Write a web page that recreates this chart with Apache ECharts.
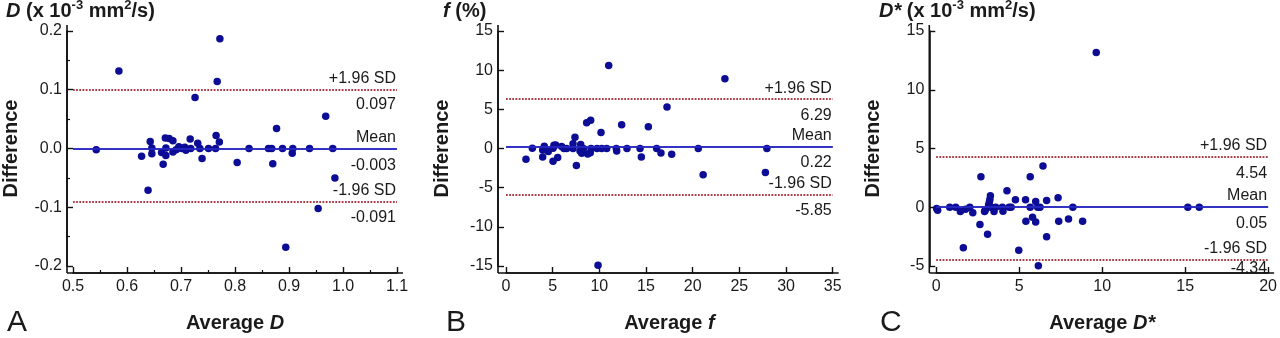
<!DOCTYPE html>
<html>
<head>
<meta charset="utf-8">
<script src="https://cdn.jsdelivr.net/npm/echarts@6/dist/echarts.min.js"></script>
<style>
html,body{margin:0;padding:0;background:#fff;}
#chart{width:1280px;height:338px;}
</style>
</head>
<body>
<div id="chart"></div>
<script>
// ---------- DATA ----------
// Panel A: D (x 10^-3 mm2/s) -> [average, difference]
const aPoints = [
  [0.543,-0.002],[0.585,0.132],[0.627,-0.013],[0.639,-0.071],[0.643,0.012],[0.646,0.001],[0.646,-0.009],
  [0.664,-0.007],[0.667,-0.027],[0.671,0.018],[0.672,0.001],[0.672,-0.012],[0.678,0.017],[0.685,0.013],
  [0.685,-0.006],[0.691,-0.002],[0.696,0.003],[0.701,0.0],[0.707,0.002],[0.709,-0.003],[0.717,0.016],
  [0.718,0.0],[0.726,0.087],[0.731,0.009],[0.735,0.0],[0.739,-0.017],[0.751,0.0],[0.764,0.0],
  [0.765,0.022],[0.767,0.114],[0.771,0.011],[0.772,0.187],[0.804,-0.024],[0.826,0.0],[0.862,0.0],
  [0.868,0.0],[0.870,-0.026],[0.877,0.034],[0.888,0.0],[0.894,-0.168],[0.906,-0.008],[0.907,0.0],
  [0.938,0.0],[0.954,-0.102],[0.968,0.055],[0.981,0.0],[0.985,-0.050]
];
// Panel B: f (%)
const bPoints = [
  [2.14,-1.37],[2.82,0.04],[3.93,-1.1],[3.93,-0.2],[4.1,0.3],[4.53,-0.37],[5.04,-1.64],[5.04,0.04],
  [5.14,0.43],[5.32,0.46],[5.54,-1.16],[5.96,0.25],[6.21,0],[6.5,0],[7.18,0.6],[7.18,0],[7.39,1.43],
  [7.54,-2.16],[7.93,-0.33],[8.0,0.5],[8.11,-0.62],[8.29,0],[8.64,3.3],[8.75,-0.7],[9.03,-0.54],
  [9.07,3.6],[9.11,0],[9.75,0],[9.86,-14.9],[10.18,2.05],[10.25,0],[10.79,0],[11.0,10.6],[11.82,0],
  [11.86,-0.33],[12.39,3.03],[12.96,0],[14.36,0],[14.5,-1.1],[15.25,2.78],[16.14,0],[16.6,-0.56],
  [17.25,5.31],[17.75,-0.72],[20.6,0],[21.12,-3.34],[23.45,8.9],[27.79,-3.07],[27.95,0]
];
// Panel C: D* (x 10^-3 mm2/s)
const cPoints = [
  [0.02,-0.1],[0.08,-0.25],[0.81,0],[1.17,0],[1.45,-0.36],[1.63,-3.45],[1.76,-0.17],[2.02,0],
  [2.2,-0.47],[2.63,-1.46],[2.69,2.6],[2.91,-0.36],[2.95,-0.25],[3.09,-2.29],[3.15,0.2],[3.2,0.45],
  [3.23,0.65],[3.26,0.98],[3.29,0],[3.48,-0.36],[3.58,0],[3.98,0],[4.02,-0.33],[4.26,1.41],[4.39,0],
  [4.51,0],[4.77,0.64],[4.97,-3.65],[5.38,0.64],[5.4,-1.19],[5.66,2.6],[5.66,0],[5.8,-0.85],
  [5.99,0.5],[5.99,-1.25],[6.11,0],[6.15,-4.98],[6.25,0],[6.43,3.52],[6.65,0.58],[6.65,-2.51],
  [7.34,0.8],[7.38,-1.19],[7.97,-1.0],[8.23,0],[8.82,-1.19],[9.64,13.17],[15.16,0],[15.85,0]
];
// Limits of agreement: [+1.96 SD, Mean, -1.96 SD] (drawn positions) and their printed values
const aLimits = [0.097, 0.002, -0.091];
const aLimitText = ['0.097', '-0.003', '-0.091'];
const bLimits = [6.29, 0.22, -5.85];
const bLimitText = ['6.29', '0.22', '-5.85'];
const cLimits = [4.33, 0.03, -4.47];
const cLimitText = ['4.54', '0.05', '-4.34'];
const limitNames = ['+1.96 SD', 'Mean', '-1.96 SD'];
// Axis ranges [min, max, interval]
const aXRange = [0.5, 1.1, 0.1], aYRange = [-0.2, 0.2, 0.1];
const bXRange = [0, 35, 5],      bYRange = [-15, 15, 5];
const cXRange = [0, 20, 5],      cYRange = [-5, 15, 5];
const panelLetters = ['A', 'B', 'C'];

// ---------- STYLE ----------
const FONT = "'Liberation Sans', Arial, sans-serif";
const TXT = '#1a1a1a';
const AX = '#111';
const DOT = '#0c0c94';
const dotted = { color: '#a8303e', type: 'dotted', width: 1.6 };
const solid = { color: '#2626c0', type: 'solid', width: 1.6 };
const X_OFF = 7;
const Y_OFFS = [6, 8, 7];

function fmt(dec) {
  return v => (Math.abs(v) < 1e-9 ? 0 : v).toFixed(dec);
}

function limitLines(values, texts, bottomDist) {
  const data = [];
  values.forEach((v, i) => {
    const ls = i === 1 ? solid : dotted;
    data.push({ yAxis: v, lineStyle: ls,
      label: { formatter: limitNames[i], position: 'insideEndTop', distance: [1, 3] } });
    data.push({ yAxis: v, lineStyle: ls,
      label: { formatter: texts[i], position: 'insideEndBottom', distance: [1, bottomDist[i]] } });
  });
  return {
    silent: true, symbol: ['none', 'none'], animation: false,
    label: { color: TXT, fontSize: 16, fontFamily: FONT },
    data: data
  };
}

const grids = [
  { left: 73, right: 883, top: 31, bottom: 66 },
  { left: 506, right: 447.3, top: 31, bottom: 66 },
  { left: 936.3, right: 6.7, top: 31, bottom: 66 }
];

function xAxis(idx, range, dec, minor, nameRich) {
  return {
    type: 'value', gridIndex: idx, min: range[0], max: range[1], interval: range[2],
    offset: X_OFF,
    axisLine: { show: true, onZero: false, lineStyle: { color: AX, width: 1.6 } },
    axisTick: { show: true, inside: true, length: 6, lineStyle: { color: AX, width: 1.4 } },
    minorTick: { show: minor, splitNumber: 2, length: 3, lineStyle: { color: AX, width: 1.2 } },
    splitLine: { show: false },
    axisLabel: { color: TXT, fontSize: 16, fontFamily: FONT, margin: 6, formatter: fmt(dec) },
    name: nameRich, nameLocation: 'middle', nameGap: 40,
    nameTextStyle: {
      fontFamily: FONT,
      rich: {
        n: { fontSize: 20, fontWeight: 'bold', color: TXT, fontFamily: FONT },
        i: { fontSize: 20, fontWeight: 'bold', fontStyle: 'italic', color: TXT, fontFamily: FONT }
      }
    }
  };
}
function yAxis(idx, range, dec, minor, off) {
  return {
    type: 'value', gridIndex: idx, min: range[0], max: range[1], interval: range[2],
    offset: off,
    axisLine: { show: true, onZero: false, lineStyle: { color: AX, width: 1.6 } },
    axisTick: { show: true, inside: true, length: 6, lineStyle: { color: AX, width: 1.4 } },
    minorTick: { show: minor, splitNumber: 2, length: 3, lineStyle: { color: AX, width: 1.2 } },
    splitLine: { show: false },
    axisLabel: { color: TXT, fontSize: 16, fontFamily: FONT, margin: 5, formatter: fmt(dec) },
    name: 'Difference', nameLocation: 'middle', nameGap: 46,
    nameTextStyle: { fontSize: 20, fontWeight: 'bold', color: TXT, fontFamily: FONT }
  };
}

const titleRich = {
  b: { fontSize: 20, fontWeight: 'bold', color: TXT, fontFamily: FONT, lineHeight: 24 },
  i: { fontSize: 20, fontWeight: 'bold', fontStyle: 'italic', color: TXT, fontFamily: FONT, lineHeight: 24 },
  s: { fontSize: 13, fontWeight: 'bold', color: TXT, fontFamily: FONT, lineHeight: 24, verticalAlign: 'top' }
};
const letterStyle = { fontSize: 30, fontWeight: 'normal', color: TXT, fontFamily: FONT };

const option = {
  animation: false,
  backgroundColor: '#fff',
  title: [
    { text: '{i|D}{b| (x 10}{s|-3}{b| mm}{s|2}{b|/s)}', left: 6, top: -1, padding: 0, textStyle: { rich: titleRich } },
    { text: '{i|f}{b| (%)}', left: 443, top: -1, padding: 0, textStyle: { rich: titleRich } },
    { text: '{i|D*}{b| (x 10}{s|-3}{b| mm}{s|2}{b|/s)}', left: 879, top: -1, padding: 0, textStyle: { rich: titleRich } },
    { text: panelLetters[0], left: 7, top: 308, padding: 0, textStyle: letterStyle },
    { text: panelLetters[1], left: 446, top: 308, padding: 0, textStyle: letterStyle },
    { text: panelLetters[2], left: 880, top: 308, padding: 0, textStyle: letterStyle }
  ],
  grid: grids,
  xAxis: [
    xAxis(0, aXRange, 1, true, '{n|Average }{i|D}'),
    xAxis(1, bXRange, 0, false, '{n|Average }{i|f}'),
    xAxis(2, cXRange, 0, false, '{n|Average }{i|D*}')
  ],
  yAxis: [
    yAxis(0, aYRange, 1, true, Y_OFFS[0]),
    yAxis(1, bYRange, 0, false, Y_OFFS[1]),
    yAxis(2, cYRange, 0, false, Y_OFFS[2])
  ],
  series: [
    { type: 'scatter', xAxisIndex: 0, yAxisIndex: 0, data: aPoints, symbolSize: 7.5,
      itemStyle: { color: DOT, opacity: 1 }, z: 3,
      markLine: limitLines(aLimits, aLimitText, [7, 9, 8]) },
    { type: 'scatter', xAxisIndex: 1, yAxisIndex: 1, data: bPoints, symbolSize: 7.5,
      itemStyle: { color: DOT, opacity: 1 }, z: 3,
      markLine: limitLines(bLimits, bLimitText, [8, 8, 8]) },
    { type: 'scatter', xAxisIndex: 2, yAxisIndex: 2, data: cPoints, symbolSize: 7.5,
      itemStyle: { color: DOT, opacity: 1 }, z: 3,
      markLine: limitLines(cLimits, cLimitText, [9, 9, 1]) }
  ]
};

const chart = echarts.init(document.getElementById('chart'), null, { renderer: 'canvas' });
chart.setOption(option);

// Extend the offset axis lines so they meet at the corner (positions derived from the axis scales)
const ranges = [[aXRange, aYRange], [bXRange, bYRange], [cXRange, cYRange]];
const extra = [];
ranges.forEach((r, g) => {
  const p0 = chart.convertToPixel({ gridIndex: g }, [r[0][0], r[1][0]]);
  const p1 = chart.convertToPixel({ gridIndex: g }, [r[0][1], r[1][1]]);
  const xL = p0[0] - Y_OFFS[g], yB = p0[1] + X_OFF;
  extra.push({ type: 'line', silent: true, z: 10,
    shape: { x1: xL, y1: p1[1] - 6, x2: xL, y2: yB },
    style: { stroke: AX, lineWidth: 1.6 } });
  extra.push({ type: 'line', silent: true, z: 10,
    shape: { x1: xL, y1: yB, x2: p1[0] + 6, y2: yB },
    style: { stroke: AX, lineWidth: 1.6 } });
});
chart.setOption({ graphic: extra });
</script>
</body>
</html>
